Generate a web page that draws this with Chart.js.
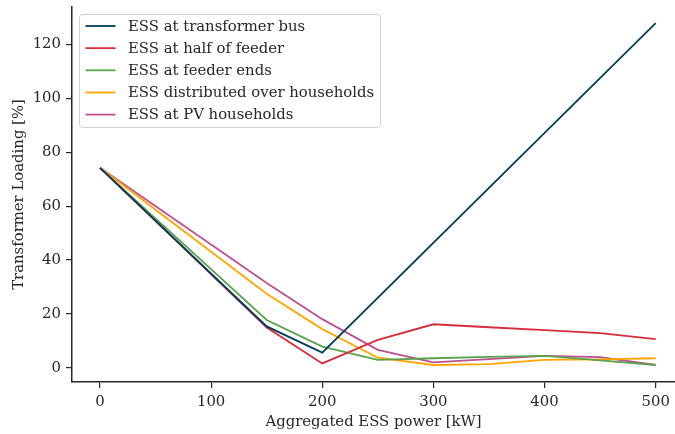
<!DOCTYPE html>
<html>
<head>
<meta charset="utf-8">
<script src="https://cdn.jsdelivr.net/npm/chart.js@4"></script>
<style>
  html, body { margin: 0; padding: 0; background: #fff; }
  #wrap { width: 675px; height: 434px; }
</style>
</head>
<body>
<div id="wrap"><canvas id="myChart" width="675" height="434"></canvas></div>
<script>
// data
const power = [0, 150, 200, 250, 300, 350, 400, 450, 500];
const essBus = [74.2, 15.4, 5.7, null, null, null, null, null, 127.8];
const essHalf = [74.2, 15.0, 1.7, 10.4, 16.2, 15.1, 14.0, 12.9, 10.7];
const essEnds = [74.2, 17.8, 7.9, 3.0, 3.6, 4.1, 4.5, 2.8, 1.1];
const essDistributed = [74.2, 27.5, 14.4, 3.8, 1.1, 1.4, 3.0, 3.2, 3.6];
const essPv = [74.2, 31.5, 18.1, 6.7, 2.1, 3.3, 4.5, 4.0, 1.1];

const seriesNames = [
    'ESS at transformer bus',
    'ESS at half of feeder',
    'ESS at feeder ends',
    'ESS distributed over households',
    'ESS at PV households'
];
const seriesColors = ['#003f5c', '#d62d3c', '#5aa24e', '#ffa600', '#bc5090'];

const xTicks = [0, 100, 200, 300, 400, 500];
const yTicks = [0, 20, 40, 60, 80, 100, 120];

const font = "'DejaVu Serif', serif";
const fontSize = 14.85;
const ink = '#262626';

function pts(vals) {
    return power.map((x, i) => ({ x: x, y: vals[i] }));
}

// legend box in the upper left of the plot
const boxLegend = {
    id: 'boxLegend',
    afterDraw(chart) {
        const c = chart.ctx;
        const a = chart.chartArea;
        const x0 = a.left + 7.5, y0 = a.top + 7.5, w = 301, h = 113;
        c.save();
        c.beginPath();
        c.roundRect(x0, y0, w, h, 3);
        c.fillStyle = 'rgba(255,255,255,0.8)';
        c.fill();
        c.strokeStyle = '#d0d0d0';
        c.lineWidth = 1;
        c.stroke();
        c.font = fontSize + 'px ' + font;
        c.textBaseline = 'middle';
        seriesNames.forEach((name, i) => {
            const y = y0 + 11.5 + i * 22.15;
            c.strokeStyle = seriesColors[i];
            c.lineWidth = 1.8;
            c.beginPath();
            c.moveTo(x0 + 6, y);
            c.lineTo(x0 + 36, y);
            c.stroke();
            c.fillStyle = ink;
            c.fillText(name, x0 + 48.5, y + 1);
        });
        c.restore();
    }
};

const ctx = document.getElementById('myChart').getContext('2d');

const myChart = new Chart(ctx, {
    type: 'line',
    data: {
        datasets: seriesNames.map((name, i) => ({
            label: name,
            data: pts([essBus, essHalf, essEnds, essDistributed, essPv][i]),
            borderColor: seriesColors[i],
            backgroundColor: seriesColors[i],
            borderWidth: 1.8,
            pointRadius: 0,
            tension: 0,
            spanGaps: true
        }))
    },
    options: {
        responsive: false,
        animation: false,
        layout: { padding: { top: 7, right: 0, left: 0, bottom: 0 } },
        plugins: {
            legend: { display: false },
            tooltip: { enabled: false }
        },
        scales: {
            x: {
                type: 'linear',
                min: -25.2,
                max: 517.4,
                afterBuildTicks: s => { s.ticks = xTicks.map(v => ({ value: v })); },
                afterFit: s => { s.height = 52; s.paddingLeft = 0; s.paddingRight = 0; },
                grid: { drawOnChartArea: false, drawTicks: true, tickLength: 6, color: ink, lineWidth: 1.2 },
                border: { display: true, color: ink, width: 1.5 },
                ticks: { color: ink, font: { family: font, size: fontSize }, padding: 5, maxRotation: 0 },
                title: {
                    display: true,
                    text: 'Aggregated ESS power [kW]',
                    color: ink,
                    font: { family: font, size: fontSize },
                    padding: { top: 2, bottom: 3 }
                }
            },
            y: {
                type: 'linear',
                min: -5.2,
                max: 133.8,
                afterBuildTicks: s => { s.ticks = yTicks.map(v => ({ value: v })); },
                afterFit: s => { s.width = 72; s.paddingTop = 0; s.paddingBottom = 0; },
                grid: { drawOnChartArea: false, drawTicks: true, tickLength: 6, color: ink, lineWidth: 1.2 },
                border: { display: true, color: ink, width: 1.5 },
                ticks: { color: ink, font: { family: font, size: fontSize }, padding: 5 },
                title: {
                    display: true,
                    text: 'Transformer Loading [%]',
                    color: ink,
                    font: { family: font, size: fontSize },
                    padding: { top: 10, bottom: 2 }
                }
            }
        }
    },
    plugins: [boxLegend]
});
</script>
</body>
</html>
